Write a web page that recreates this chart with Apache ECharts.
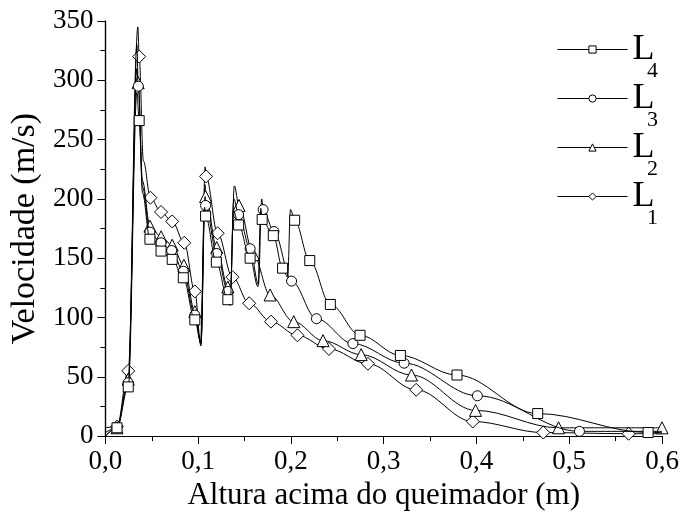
<!DOCTYPE html>
<html>
<head>
<meta charset="utf-8">
<script src="https://cdn.jsdelivr.net/npm/echarts@6/dist/echarts.min.js"></script>
<style>
  html, body { margin: 0; padding: 0; background: #fff; }
  #chart { width: 682px; height: 516px; }
</style>
</head>
<body>
<div id="chart"></div>
<script>
// [x (m), velocidade (m/s), marcador? 1 = sim]
const L4 = [
  [0, 0, 0], [0.0125, 7, 1], [0.0246, 41.5, 1], [0.034, 290, 0], [0.0364, 266, 1], [0.040, 205, 0],
  [0.048, 166, 1], [0.060, 156, 1], [0.072, 149, 1], [0.084, 133.5, 1], [0.0964, 98, 1], [0.1025, 80, 0],
  [0.107, 193, 0], [0.108, 185.5, 1], [0.1196, 146.7, 1], [0.132, 115, 1], [0.1345, 110, 0], [0.138, 190, 0],
  [0.1436, 178, 1], [0.156, 150, 1], [0.1645, 126, 0], [0.1675, 192, 0], [0.169, 182.7, 1], [0.181, 169, 1],
  [0.191, 141.6, 1], [0.1965, 134, 0], [0.1995, 191, 0], [0.204, 182, 1], [0.2203, 148, 1], [0.2425, 111, 1],
  [0.2745, 85, 1], [0.318, 68, 1], [0.379, 51.5, 1], [0.466, 19, 1], [0.585, 3, 1], [0.6, 3, 0]
];
const L3 = [
  [0, 0, 0], [0.0125, 7, 1], [0.0246, 45, 1], [0.034, 310, 0], [0.0355, 295, 1], [0.040, 210, 0],
  [0.048, 172, 1], [0.060, 163, 1], [0.0714, 156.5, 1], [0.084, 139, 1], [0.0964, 102, 1], [0.103, 78, 0],
  [0.1075, 202, 0], [0.108, 194.5, 1], [0.120, 154, 1], [0.132, 122, 1], [0.1345, 114, 0], [0.1385, 200, 0],
  [0.1436, 186.7, 1], [0.156, 158, 1], [0.165, 128, 0], [0.1685, 200, 0], [0.170, 191, 1], [0.1817, 172.5, 1],
  [0.2007, 130.7, 1], [0.2275, 99, 1], [0.2668, 78, 1], [0.322, 61.5, 1], [0.401, 34, 1], [0.511, 4, 1],
  [0.6, 4, 0]
];
const L2 = [
  [0, 3, 0], [0.0125, 7, 1], [0.0246, 48, 1], [0.034, 330, 0], [0.0353, 298, 1], [0.040, 215, 0],
  [0.048, 177, 1], [0.060, 168, 1], [0.072, 161, 1], [0.0846, 144, 1], [0.0964, 105, 1], [0.103, 78, 0],
  [0.1075, 212, 0], [0.108, 202, 1], [0.120, 159, 1], [0.132, 125.6, 1], [0.1345, 118, 0], [0.139, 211, 0],
  [0.144, 194.5, 1], [0.1596, 153, 1], [0.1775, 119, 1], [0.203, 96.5, 1], [0.2346, 80.5, 1], [0.2757, 68.7, 1],
  [0.330, 51.5, 1], [0.399, 21.7, 1], [0.4885, 7, 1], [0.6, 7, 1]
];
const L1 = [
  [0, 7, 0], [0.0125, 8, 1], [0.0246, 55, 1], [0.035, 345, 0], [0.0364, 320, 1], [0.041, 232, 0],
  [0.0485, 201, 1], [0.060, 189, 1], [0.072, 181, 1], [0.085, 163, 1], [0.0964, 122, 1], [0.103, 76, 0],
  [0.1075, 227, 0], [0.1085, 219, 1], [0.121, 171, 1], [0.137, 134, 1], [0.155, 112, 1], [0.1785, 96.5, 1],
  [0.207, 85, 1], [0.241, 73.5, 1], [0.283, 61, 1], [0.335, 39, 1], [0.396, 12.3, 1], [0.472, 3, 1],
  [0.564, 2, 1], [0.6, 2, 0]
];
const seriesNames = ['L4', 'L3', 'L2', 'L1'];
const seriesSymbols = ['rect', 'circle', 'triangle', 'diamond'];
const xTicks = [0, 0.1, 0.2, 0.3, 0.4, 0.5, 0.6];
const yTicks = [0, 50, 100, 150, 200, 250, 300, 350];

const FONT = 'Liberation Serif';
const chart = echarts.init(document.getElementById('chart'));

const toData = arr => arr.map(p => p[2]
  ? { value: [p[0], p[1]] }
  : { value: [p[0], p[1]], symbol: 'none' });

const allSeries = [L4, L3, L2, L1].map((arr, i) => ({
  name: seriesNames[i],
  type: 'line',
  data: toData(arr),
  smooth: 0.35,
  smoothMonotone: 'x',
  symbol: seriesSymbols[i],
  symbolSize: seriesSymbols[i] === 'diamond' ? 13 : (seriesSymbols[i] === 'triangle' ? 12 : 10),
  showAllSymbol: true,
  lineStyle: { color: '#000', width: 1 },
  itemStyle: { color: '#fff', borderColor: '#000', borderWidth: 1 },
  z: 10 - i
}));

// legenda: "L" na legenda, índice como subscrito ao lado
const LEG_TOP = 20, LEG_ROW = 49;
const subscripts = seriesNames.map((n, i) => ({
  type: 'text',
  left: 647,
  top: LEG_TOP + LEG_ROW * i + 40,
  style: { text: n.slice(1), font: '22px "' + FONT + '"', fill: '#000' }
}));

const baseAxisLine = { show: true, lineStyle: { color: '#000', width: 1.2 } };

const option = {
  backgroundColor: '#fff',
  animation: false,
  grid: { left: 102, right: 20, top: 21, bottom: 78 },
  legend: {
    orient: 'vertical',
    left: 552,
    top: LEG_TOP,
    itemWidth: 70,
    itemHeight: 9,
    itemGap: 0,
    data: seriesNames,
    lineStyle: { width: 1, color: '#000' },
    itemStyle: { color: '#fff', borderColor: '#000', borderWidth: 1 },
    formatter: () => 'L',
    textStyle: { fontFamily: FONT, fontSize: 36, color: '#000', lineHeight: LEG_ROW }
  },
  graphic: subscripts,
  xAxis: [
    {
      type: 'value', min: 0, max: 0.6, interval: 0.1,
      name: 'Altura acima do queimador (m)',
      nameLocation: 'middle', nameGap: 43,
      nameTextStyle: { fontFamily: FONT, fontSize: 31, color: '#000' },
      axisLine: baseAxisLine,
      axisTick: { show: true, inside: false, length: 8, lineStyle: { color: '#000' } },
      minorTick: { show: true, splitNumber: 2, length: 5, lineStyle: { color: '#000' } },
      axisLabel: {
        fontFamily: FONT, fontSize: 27, color: '#000', margin: 12,
        formatter: v => xTicks.includes(Math.round(v * 10) / 10) ? v.toFixed(1).replace('.', ',') : ''
      },
      splitLine: { show: false }
    },
    {
      type: 'value', position: 'top', min: 0, max: 0.6, interval: 0.1,
      axisLine: baseAxisLine,
      axisTick: { show: true, inside: true, length: 7, lineStyle: { color: '#000' } },
      minorTick: { show: true, splitNumber: 2, length: 4, lineStyle: { color: '#000' } },
      axisLabel: { show: false },
      splitLine: { show: false }
    }
  ],
  yAxis: [
    {
      type: 'value', min: 0, max: 350, interval: 50,
      name: 'Velocidade (m/s)',
      nameLocation: 'middle', nameGap: 60,
      nameTextStyle: { fontFamily: FONT, fontSize: 34, color: '#000' },
      axisLine: baseAxisLine,
      axisTick: { show: true, inside: false, length: 8, lineStyle: { color: '#000' } },
      minorTick: { show: true, splitNumber: 2, length: 5, lineStyle: { color: '#000' } },
      axisLabel: {
        fontFamily: FONT, fontSize: 27, color: '#000', margin: 12,
        formatter: v => yTicks.includes(v) ? String(v) : ''
      },
      splitLine: { show: false }
    },
    {
      type: 'value', position: 'right', min: 0, max: 350, interval: 50,
      axisLine: baseAxisLine,
      axisTick: { show: true, inside: true, length: 7, lineStyle: { color: '#000' } },
      minorTick: { show: true, splitNumber: 2, length: 4, lineStyle: { color: '#000' } },
      axisLabel: { show: false },
      splitLine: { show: false }
    }
  ],
  series: allSeries
};

chart.setOption(option);
</script>
</body>
</html>
